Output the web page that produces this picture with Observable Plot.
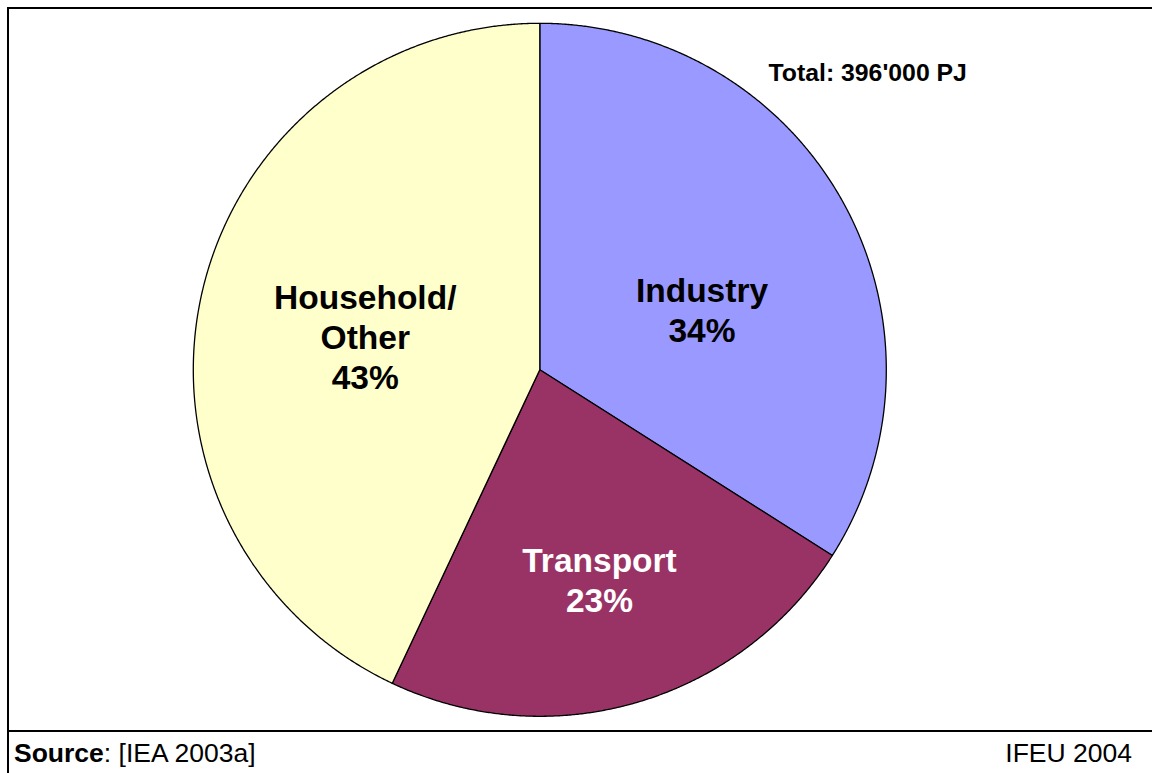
<!DOCTYPE html>
<html>
<head>
<meta charset="utf-8">
<script src="https://cdn.jsdelivr.net/npm/d3@7"></script>
<script src="https://cdn.jsdelivr.net/npm/@observablehq/plot@0.6"></script>
<style>
html, body { margin: 0; padding: 0; background: #fff; width: 1152px; height: 773px; overflow: hidden;
  font-family: "Liberation Sans", Arial, sans-serif; }
#frame { position: absolute; left: 7px; top: 7px; width: 1145px; height: 721px;
  border-top: 2px solid #000; border-left: 2px solid #000; border-bottom: 2px solid #000; }
#chart svg { display: block; }
#footer { position: absolute; left: 7px; top: 731px; width: 1145px; height: 42px;
  border-left: 2px solid #000; font-size: 26.5px; color: #000; }
#source { position: absolute; left: 5px; top: 8.6px; line-height: 26.5px; white-space: pre; }
#credit { position: absolute; right: 22px; top: 8.6px; line-height: 26.5px; white-space: pre; }
</style>
</head>
<body>
<div id="frame"><div id="chart"></div></div>
<div id="footer"><span id="source"></span><span id="credit"></span></div>
<script>
// ---- data ----
const categories = ["Industry", "Transport", "Household/Other"];
const shares = [34, 23, 43];
const sliceColors = ["#9999FF", "#993366", "#FFFFCC"];
const labelTexts = ["Industry\n34%", "Transport\n23%", "Household/\nOther\n43%"];
const labelColors = ["#000000", "#FFFFFF", "#000000"];
const totalText = "Total: 396'000 PJ";
const sourceBold = "Source";
const sourceRest = ": [IEA 2003a]";
const creditText = "IFEU 2004";

// ---- layout ----
const W = 1143, H = 721;
const cx = 530.3, cy = 360.3, R = 346.5;
const xDomain = [-cx / R, (W - cx) / R];
const yDomain = [-(H - cy) / R, cy / R];
// label placement: angle (deg, clockwise from top) and radius fraction
const labelPlacement = {
  "Industry": {angle: 69.4, r: 0.50},
  "Transport": {angle: 164.1, r: 0.629},
  "Household/Other": {angle: 280.9, r: 0.513}
};

const total = d3.sum(shares);
let acc = 0;
const slices = categories.map((c, i) => {
  const a0 = acc / total * 2 * Math.PI;
  acc += shares[i];
  const a1 = acc / total * 2 * Math.PI;
  return {category: c, a0, a1};
});
const outline = slices.flatMap(s => {
  const n = Math.max(2, Math.ceil((s.a1 - s.a0) / (Math.PI / 720)));
  const pts = [{category: s.category, x: 0, y: 0}];
  for (let k = 0; k <= n; k++) {
    const a = s.a0 + (s.a1 - s.a0) * k / n;
    pts.push({category: s.category, x: Math.sin(a), y: Math.cos(a)});
  }
  pts.push({category: s.category, x: 0, y: 0});
  return pts;
});
const labels = categories.map((c, i) => {
  const p = labelPlacement[c];
  const a = p.angle * Math.PI / 180;
  return {category: c, text: labelTexts[i], color: labelColors[i], x: p.r * Math.sin(a), y: p.r * Math.cos(a)};
});
const labelGroups = d3.groups(labels, d => d.color);

const chart = Plot.plot({
  width: W,
  height: H,
  margin: 0,
  x: {domain: xDomain, axis: null},
  y: {domain: yDomain, axis: null},
  color: {domain: categories, range: sliceColors},
  style: {fontFamily: "'Liberation Sans', Arial, sans-serif", background: "white", overflow: "visible"},
  marks: [
    Plot.line(outline, {x: "x", y: "y", z: "category", fill: "category", stroke: "#000", strokeWidth: 1.3, strokeLinejoin: "round", curve: "linear"}),
    ...labelGroups.map(([color, rows]) =>
      Plot.text(rows, {x: "x", y: "y", text: "text", fill: color, fontSize: 33.5, fontWeight: "bold",
        lineAnchor: "middle", textAnchor: "middle", lineHeight: 1.2})
    ),
    Plot.text([totalText], {text: d => d, frameAnchor: "top-left", textAnchor: "start", lineAnchor: "top",
      dx: 759, dy: 53.5, fontSize: 24.8, fontWeight: "bold", fill: "#000"})
  ]
});
document.getElementById("chart").appendChild(chart);

const src = document.getElementById("source");
const b = document.createElement("b");
b.textContent = sourceBold;
src.appendChild(b);
src.appendChild(document.createTextNode(sourceRest));
document.getElementById("credit").textContent = creditText;
</script>
</body>
</html>
